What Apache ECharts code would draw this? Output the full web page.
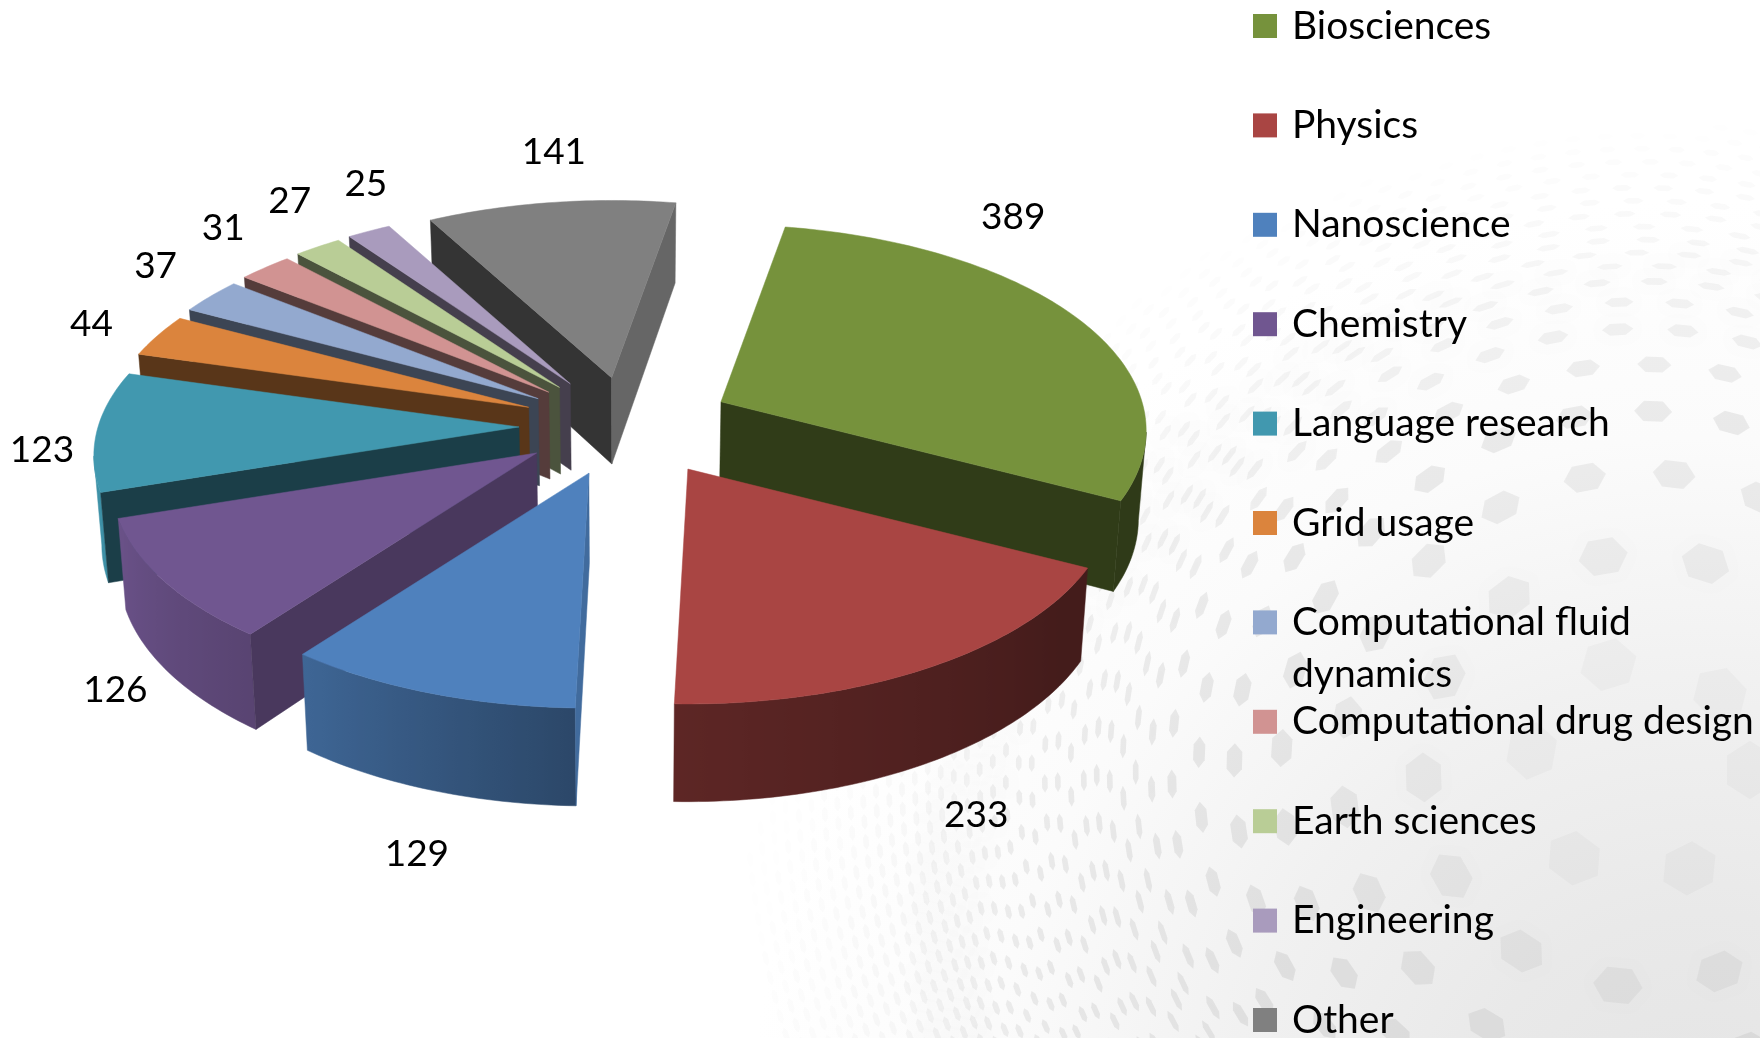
<!DOCTYPE html>
<html><head><meta charset="utf-8">
<style>html,body{margin:0;padding:0;background:#fff;overflow:hidden}#c{width:1760px;height:1038px}</style>
<script src="https://cdn.jsdelivr.net/npm/echarts@6/dist/echarts.min.js"></script>
</head><body><div id="c"></div>
<script>
const categories = ['Biosciences','Physics','Nanoscience','Chemistry','Language research','Grid usage','Computational fluid dynamics','Computational drug design','Earth sciences','Engineering','Other'];
const values = [389,233,129,126,123,44,37,31,27,25,141];
const colors = ['#76923C','#A94543','#4F81BD','#705690','#4198AF','#DB843D','#93A9CF','#D19392','#B9CD96','#A99BBD','#808080'];
// label offset from the outer rim at each slice's middle angle
const labelNudge = [[-63,-100],[45,148],[-11,161],[-48,110],[-55,19],[-66,-12],[-55,-30],[-42,-40],[-28,-46],[-3,-47],[3,-51]];
// small per-slice shift of the exploded position
const apexShift = [[-1,-2],[7,0],[-3,0],[-4,-2],[-2,0],[0,0],[0,0],[0,0],[0,0],[0,0],[2,1]];

// 3D pie layout
const START = 10, CX = 627, CY = 426, EX = 106, EY = 50, R = 421, A = 202, P = 0.14;
const rad = d => d * Math.PI / 180;
const total = values.reduce((a, b) => a + b, 0);
let cum = START;
const slices = values.map((v, i) => {
  const a0 = cum, a1 = cum + v / total * 360; cum = a1;
  const m = (a0 + a1) / 2;
  return { i, a0, a1, m, apex: [CX + EX * Math.sin(rad(m)) + apexShift[i][0], CY - EY * Math.cos(rad(m)) + apexShift[i][1]] };
});
const rim = (s, t) => {
  const c = Math.cos(rad(t)), k = 1 / (1 + P * c);
  return [s.apex[0] + R * Math.sin(rad(t)) * k, s.apex[1] - A * c * k];
};
const under = p => [CX + (p[0] - CX) * 0.985, p[1] + 88 + 0.035 * (p[1] - CY)];
const lerpTable = (tb, x) => {
  for (let i = 1; i < tb.length; i++) if (x <= tb[i][0]) {
    const [x0, y0] = tb[i - 1], [x1, y1] = tb[i];
    return y0 + (y1 - y0) * (x - x0) / (x1 - x0);
  }
  return tb[tb.length - 1][1];
};
const rimShade = [[0,.4],[125,.4],[181,.55],[217,.79],[252,.95],[270,1],[360,1]];
const sideShade = [[0,.8],[91,.83],[100,.8],[127,.65],[162,.41],[360,.4]];
const shade = (hex, f) => {
  const n = parseInt(hex.slice(1), 16);
  return `rgb(${Math.round((n >> 16) * f)},${Math.round(((n >> 8) & 255) * f)},${Math.round((n & 255) * f)})`;
};
const poly = (points, fill, stroke) => ({
  type: 'polygon', shape: { points }, silent: true,
  style: { fill, stroke: stroke || fill, lineWidth: 0.5 }
});
const FONT = 'Lato, "Open Sans", sans-serif';

function renderSlice(s) {
  return function (params, api) {
    const v = api.value(0), col = colors[s.i], kids = [];
    const n = Math.max(2, Math.ceil(s.a1 - s.a0));
    const arc = [], ang = [];
    for (let j = 0; j <= n; j++) { ang.push(s.a0 + (s.a1 - s.a0) * j / n); arc.push(rim(s, ang[j])); }
    // visible part of the outer wall, shaded along x
    const vis = [];
    for (let j = 0; j < n; j++) if (arc[j + 1][0] < arc[j][0]) { if (!vis.length) vis.push(j); vis.push(j + 1); }
    if (vis.length > 1) {
      const top = vis.map(j => arc[j]), bot = top.map(under);
      const xs = top.concat(bot).map(p => p[0]), x0 = Math.min(...xs), x1 = Math.max(...xs);
      const stops = vis.map(j => ({ offset: Math.min(1, Math.max(0, (arc[j][0] - x0) / (x1 - x0))), color: shade(col, lerpTable(rimShade, ang[j])) })).reverse();
      const g = new echarts.graphic.LinearGradient(x0, 0, x1, 0, stops, true);
      kids.push(poly(top.concat(bot.slice().reverse()), g, g));
    }
    const p0 = arc[0], p1 = arc[n];
    if (p0[0] < s.apex[0]) {
      const nrm = (s.a0 - 90 + 360) % 360;
      kids.push(poly([s.apex, p0, under(p0), under(s.apex)], shade(col, lerpTable(sideShade, nrm))));
    }
    if (p1[0] > s.apex[0]) {
      const nrm = (s.a1 + 90) % 360;
      kids.push(poly([s.apex, p1, under(p1), under(s.apex)], shade(col, lerpTable(sideShade, nrm))));
    }
    kids.push(poly([s.apex].concat(arc), col));
    const a = rim(s, s.m), nd = labelNudge[s.i];
    kids.push({ type: 'text', z2: 100, silent: true,
      style: { text: String(v), x: a[0] + nd[0], y: a[1] + nd[1], fill: '#000', font: '37px ' + FONT, align: 'center', verticalAlign: 'middle' } });
    return { type: 'group', children: kids };
  };
}
const drawOrder = slices.slice().sort((a, b) => a.apex[1] - b.apex[1]);
const series = drawOrder.map(s => ({
  type: 'custom', name: categories[s.i], coordinateSystem: 'none',
  data: [{ name: categories[s.i], value: [values[s.i]] }],
  itemStyle: { color: colors[s.i] }, renderItem: renderSlice(s), animation: false, silent: true
}));

// decorative backdrop: faint hexagon dots on rings
const BGX = 1640, BGY = 770;
const backdrop = [{
  type: 'rect', z: -20, silent: true, shape: { x: 0, y: 0, width: 1760, height: 1038 },
  style: { fill: new echarts.graphic.RadialGradient(1700, 1150, 950, [
    { offset: 0, color: '#E4E4E4' }, { offset: .25, color: '#E9E9E9' }, { offset: .5, color: '#F1F1F1' },
    { offset: .75, color: '#FBFBFB' }, { offset: 1, color: '#FFFFFF' }], true) }
}];
let ring = 0;
for (let r = 110; r < 900; ring++) {
  const gap = Math.max(13, 76 - (r - 237) * 0.24);
  const arcStep = Math.max(20, 100 - (r - 237) * 0.17);
  const dth = arcStep / r;
  const tang = Math.max(8, arcStep * 0.24);
  const radl = Math.max(2.5, gap * 0.25);
  for (let th = (ring % 2) * dth / 2; th < Math.PI * 2; th += dth) {
    const x = BGX + r * Math.cos(th), y = BGY + r * Math.sin(th);
    if (x < 700 || x > 1800 || y < 60 || y > 1080) continue;
    const d = Math.hypot(x - 1700, y - 1150);
    let al = 0.11 * Math.min(1, Math.max(0, (1040 - d) / 320));
    al *= Math.min(1, 0.02 + r / 380);
    if (r > 620) al *= Math.max(.35, 1 - (r - 620) / 350);
    if (al < .005) continue;
    const pts = [];
    for (let k = 0; k < 6; k++) {
      const q = k * Math.PI / 3 + Math.PI / 6;
      const a = Math.cos(q) * radl, b = Math.sin(q) * tang;
      pts.push([x + a * Math.cos(th) - b * Math.sin(th), y + a * Math.sin(th) + b * Math.cos(th)]);
    }
    backdrop.push({ type: 'polygon', z: -19, silent: true, shape: { points: pts },
      style: { fill: `rgba(90,90,90,${al.toFixed(3)})`, shadowBlur: 8, shadowColor: `rgba(90,90,90,${(al*.8).toFixed(3)})` } });
  }
  r += gap;
}

// legend rows: a fixed pitch; the two-line entry sits in its own block so the pitch stays even
const ROW0 = 14, PITCH = 99.4, FS = 39, LH = 52, MARK = 24;
const legendBase = {
  orient: 'vertical', left: 1253, padding: 0, height: 1300, icon: 'rect',
  itemWidth: MARK, itemHeight: MARK, itemGap: PITCH - LH, selectedMode: false,
  formatter: n => ' ' + n,
  textStyle: { color: '#000', fontFamily: FONT, fontSize: FS, lineHeight: LH }
};
const chart = echarts.init(document.getElementById('c'), null, { renderer: 'canvas', width: 1760, height: 1038 });
chart.setOption({
  animation: false,
  backgroundColor: '#fff',
  graphic: { elements: backdrop },
  legend: [
    Object.assign({}, legendBase, { top: ROW0 + MARK / 2 - LH / 2, data: categories.slice(0, 6) }),
    Object.assign({}, legendBase, { top: ROW0 + 6 * PITCH + MARK / 2 - LH * 1.5, data: categories.slice(6, 7),
      formatter: n => '\n Computational fluid\n dynamics' }),
    Object.assign({}, legendBase, { top: ROW0 + 7 * PITCH + MARK / 2 - LH / 2, data: categories.slice(7) })
  ],
  series
});
</script></body></html>
